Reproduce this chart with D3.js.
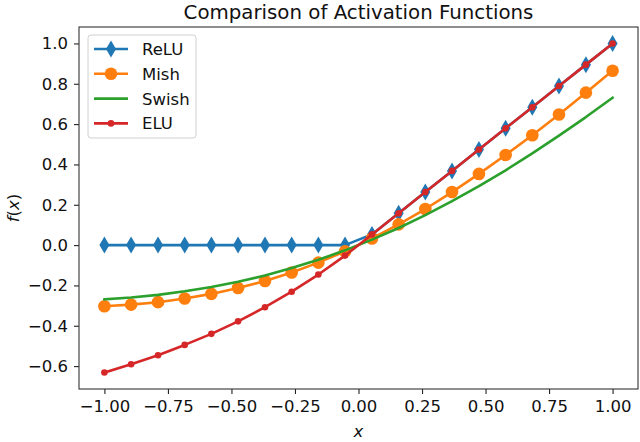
<!DOCTYPE html>
<html>
<head>
<meta charset="utf-8">
<script src="https://cdn.jsdelivr.net/npm/d3@7"></script>
<style>
  body { margin: 0; background: #fff; }
  svg { font-family: "DejaVu Sans", sans-serif; display: block; }
</style>
</head>
<body>
<div id="graph"></div>
<script>
var w = 640, h = 442
var margin = {left: 79, right: 2, top: 27, bottom: 53}

// x sample points (20 of them, -1 .. 1)
var xs = [-1.000, -0.895, -0.789, -0.684, -0.579, -0.474, -0.368, -0.263, -0.158, -0.053,
           0.053,  0.158,  0.263,  0.368,  0.474,  0.579,  0.684,  0.789,  0.895,  1.000]

var relu  = [0, 0, 0, 0, 0, 0, 0, 0, 0, 0,
             0.053, 0.158, 0.263, 0.368, 0.474, 0.579, 0.684, 0.789, 0.895, 1.000]
var mish  = [-0.303, -0.295, -0.283, -0.265, -0.242, -0.213, -0.178, -0.136, -0.087, -0.031,
              0.033,  0.103,  0.179,  0.263,  0.353,  0.447,  0.545,  0.648,  0.756,  0.865]
var swish = [-0.269, -0.260, -0.247, -0.229, -0.208, -0.182, -0.151, -0.114, -0.073, -0.026,
              0.027,  0.085,  0.149,  0.218,  0.292,  0.371,  0.455,  0.543,  0.635,  0.731]
var elu   = [-0.632, -0.591, -0.546, -0.495, -0.440, -0.378, -0.308, -0.231, -0.146, -0.052,
              0.053,  0.158,  0.263,  0.368,  0.474,  0.579,  0.684,  0.789,  0.895,  1.000]

var xTicks = [-1.00, -0.75, -0.50, -0.25, 0.00, 0.25, 0.50, 0.75, 1.00]
var yTicks = [-0.6, -0.4, -0.2, 0.0, 0.2, 0.4, 0.6, 0.8, 1.0]

var series = [
  {name: 'ReLU',  values: relu,  color: '#1f77b4', marker: 'diamond'},
  {name: 'Mish',  values: mish,  color: '#ff7f0e', marker: 'circle'},
  {name: 'Swish', values: swish, color: '#2ca02c', marker: null},
  {name: 'ELU',   values: elu,   color: '#d62728', marker: 'dot'}
]

var fs = '16.5px'

var svg = d3.select('#graph').append('svg')
    .attr('width', w).attr('height', h)

var pw = w - margin.left - margin.right
var ph = h - margin.top - margin.bottom

// matplotlib style 5% margins around data
var xExt = d3.extent(xs)
var allY = d3.merge(series.map(function(s){ return s.values }))
var yExt = d3.extent(allY)
var xPad = (xExt[1] - xExt[0]) * 0.05
var yPad = (yExt[1] - yExt[0]) * 0.05

var x = d3.scaleLinear().domain([xExt[0] - xPad, xExt[1] + xPad]).range([0, pw])
var y = d3.scaleLinear().domain([yExt[0] - yPad, yExt[1] + yPad]).range([ph, 0])

var g = svg.append('g').attr('transform', 'translate(' + margin.left + ',' + margin.top + ')')

var xAxis = g.append('g')
    .attr('transform', 'translate(0,' + ph + ')')
    .call(d3.axisBottom(x).tickValues(xTicks).tickFormat(d3.format('.2f')).tickSizeOuter(0).tickSize(5).tickPadding(6))
var yAxis = g.append('g')
    .call(d3.axisLeft(y).tickValues(yTicks).tickFormat(d3.format('.1f')).tickSizeOuter(0).tickSize(5).tickPadding(6))

;[xAxis, yAxis].forEach(function(a){
  a.select('.domain').remove()
  a.selectAll('.tick line').attr('stroke', '#222').attr('stroke-width', 1.1)
  a.selectAll('.tick text').attr('fill', '#111').style('font-size', fs)
    .style('font-family', '"DejaVu Sans", sans-serif')
    .text(function(d){ var t = d3.select(this).text(); return t.replace('-', '\u2212') })
})

var line = d3.line()
    .x(function(d, i){ return x(xs[i]) })
    .y(function(d){ return y(d) })

function drawMarkers(sel, s, cx, cy){
  if (s.marker == 'diamond') {
    sel.append('path')
        .attr('d', 'M' + cx + ',' + (cy - 8.5) + 'L' + (cx + 5) + ',' + cy + 'L' + cx + ',' + (cy + 8.5) + 'L' + (cx - 5) + ',' + cy + 'Z')
        .attr('fill', s.color)
  } else if (s.marker == 'circle') {
    sel.append('circle').attr('cx', cx).attr('cy', cy).attr('r', 6.3).attr('fill', s.color)
  } else if (s.marker == 'dot') {
    sel.append('circle').attr('cx', cx).attr('cy', cy).attr('r', 3.3).attr('fill', s.color)
  }
}

var plot = g.append('g')
series.forEach(function(s){
  var sg = plot.append('g')
  sg.append('path')
      .attr('d', line(s.values))
      .attr('fill', 'none')
      .attr('stroke', s.color)
      .attr('stroke-width', 2.6)
      .attr('stroke-linejoin', 'round')
      .attr('stroke-linecap', 'square')
  if (s.marker) {
    s.values.forEach(function(v, i){ drawMarkers(sg, s, x(xs[i]), y(v)) })
  }
})

// frame
g.append('rect')
    .attr('width', pw).attr('height', ph)
    .attr('fill', 'none').attr('stroke', '#333').attr('stroke-width', 1.1)

// legend
var lg = g.append('g').attr('transform', 'translate(9,8)')
lg.append('rect')
    .attr('width', 108).attr('height', 103).attr('rx', 3)
    .attr('fill', '#fff').attr('fill-opacity', 0.8)
    .attr('stroke', '#d0d0d0').attr('stroke-width', 1)
series.forEach(function(s, i){
  var ly = 14 + i * 24.8
  var row = lg.append('g')
  row.append('line')
      .attr('x1', 6).attr('x2', 40).attr('y1', ly).attr('y2', ly)
      .attr('stroke', s.color).attr('stroke-width', 2.6)
  drawMarkers(row, s, 23, ly)
  row.append('text')
      .attr('x', 54).attr('y', ly).attr('dy', '0.36em')
      .style('font-size', fs).attr('fill', '#111')
      .text(s.name)
})

// title and labels
svg.append('text')
    .attr('x', margin.left + pw / 2).attr('y', 19)
    .attr('text-anchor', 'middle')
    .style('font-size', '19.8px').attr('fill', '#111')
    .text('Comparison of Activation Functions')

svg.append('text')
    .attr('x', margin.left + pw / 2).attr('y', 437)
    .attr('text-anchor', 'middle')
    .style('font-size', fs).style('font-style', 'italic').attr('fill', '#111')
    .text('x')

svg.append('text')
    .attr('transform', 'translate(19,' + (margin.top + ph / 2) + ') rotate(-90)')
    .attr('text-anchor', 'middle')
    .style('font-size', fs).attr('fill', '#111')
    .html('<tspan font-style="italic">f</tspan>(<tspan font-style="italic">x</tspan>)')
</script>
</body>
</html>
